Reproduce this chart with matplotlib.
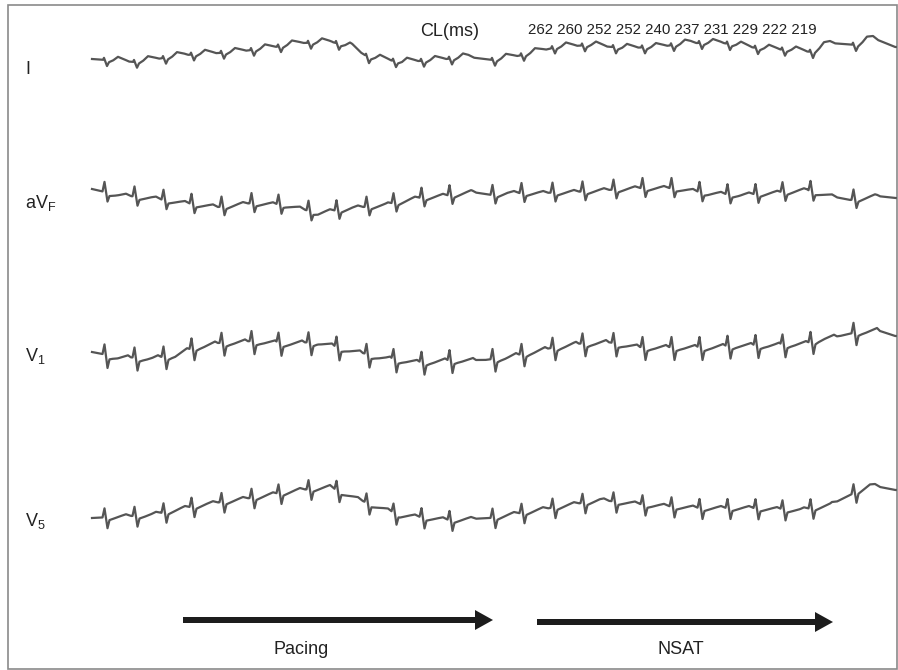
"""
Surface ECG leads during pacing and NSAT, with CL annotations.
Output: out.png (898 x 670)
"""

import numpy as np
import matplotlib
matplotlib.use("Agg")
import matplotlib.pyplot as plt

# ==========================================================
# DATA (pixel units of the figure)
# ==========================================================

LEADS = ["I", "aVF", "V1", "V5"]

CL_VALUES = [262, 260, 252, 252, 240, 237, 231, 229, 222, 219]

# beat (QRS) positions, common to all leads
BEATS = [105, 135, 164, 192, 222, 252, 279, 309, 337, 367, 394, 422, 450,
         493, 522, 553, 583, 614, 643, 672, 700, 728, 756, 783, 811, 854]

# baseline knots per lead
I_KX = [92, 135, 185, 235, 268, 302, 332, 352, 368, 402, 435, 468, 493,
        523, 557, 590, 623, 657, 690, 723, 757, 790, 813, 830, 857, 873, 895]
I_KY = [59, 62, 55, 52, 48, 43, 42, 47, 57, 62, 60, 57, 60,
        55, 47, 45, 48, 47, 43, 43, 48, 50, 52, 43, 45, 38, 47]

AVF_KX = [92, 118, 152, 185, 218, 252, 285, 318, 352, 385, 418, 452, 472,
          492, 507, 540, 573, 607, 640, 673, 707, 740, 773, 807, 830, 850,
          877, 895]
AVF_KY = [189, 195, 198, 203, 207, 203, 205, 213, 208, 205, 198, 195, 192,
          195, 193, 193, 192, 190, 188, 188, 193, 195, 193, 190, 196, 200,
          196, 198]

V1_KX = [92, 118, 152, 175, 195, 218, 252, 285, 318, 338, 358, 385, 418,
         452, 485, 507, 540, 573, 607, 640, 673, 707, 740, 773, 807, 823,
         840, 857, 877, 895]
V1_KY = [352, 357, 358, 355, 347, 343, 341, 343, 342, 347, 352, 358, 362,
         360, 360, 357, 350, 344, 342, 347, 347, 347, 345, 345, 343, 338,
         336, 332, 330, 336]

V5_KX = [92, 150, 200, 250, 300, 330, 360, 400, 450, 490, 550, 600, 650,
         700, 750, 800, 830, 850, 870, 895]
V5_KY = [518, 515, 505, 498, 490, 487, 500, 515, 520, 518, 508, 500, 505,
         508, 508, 510, 505, 495, 485, 490]

# single-beat waveforms (offset from QRS, deflection; + is downward)
I_TDX = [-2, -1, 2, 4, 8, 13, 19, 24]
I_TDY = [0, -2, 6, 2, 0, -4, -2, 0]

AVF_TDX = [-2.5, -0.5, 2.5, 4.5, 8, 14, 21, 26]
AVF_TDY = [0, -10, 9, 3, 2, 0, -2, 0]

V1_TDX = [-2.5, -0.5, 2.5, 4.5, 7, 11, 17, 23, 26]
V1_TDY = [0, -10, 13, 4, 3, 2, 0, -2, 0]

V5_TDX = [-2.5, -0.5, 2.5, 4.5, 8, 14, 21, 26]
V5_TDY = [0, -9, 11, 3, 2, 0, -2, 0]

# ==========================================================
# STYLE
# ==========================================================

plt.rcParams["font.family"] = ["Liberation Sans", "DejaVu Sans"]
plt.rcParams["mathtext.default"] = "regular"

TRACE_COLOR = "#555555"
ARROW_COLOR = "#1c1c1c"
TEXT_COLOR = "#222222"


# ==========================================================
# BUILD TRACE
# ==========================================================

def build_trace(kx, ky, tdx, tdy):

    x = np.arange(92, 896, 0.25)

    y = np.interp(x, kx, ky)

    for beat in BEATS:

        y = y + np.interp(x - beat, tdx, tdy, left=0, right=0)

    return x, y


# ==========================================================
# MAIN
# ==========================================================

def main():

    fig = plt.figure(figsize=(8.98, 6.70), dpi=100)

    ax = fig.add_axes([0, 0, 1, 1])

    ax.set_xlim(0, 898)
    ax.set_ylim(670, 0)
    ax.axis("off")

    # frame
    ax.add_patch(plt.Rectangle((7.5, 4.5), 889, 664, fill=False,
                               edgecolor="#8a8a8a", linewidth=1.2))

    traces = [
        (I_KX, I_KY, I_TDX, I_TDY),
        (AVF_KX, AVF_KY, AVF_TDX, AVF_TDY),
        (V1_KX, V1_KY, V1_TDX, V1_TDY),
        (V5_KX, V5_KY, V5_TDX, V5_TDY),
    ]

    for kx, ky, tdx, tdy in traces:

        x, y = build_trace(kx, ky, tdx, tdy)

        ax.plot(x, y, color=TRACE_COLOR, linewidth=1.6,
                solid_joinstyle="round")

    # lead labels
    label_text = ["I", "aV$_{F}$", "V$_{1}$", "V$_{5}$"]
    label_y = [70, 203, 356, 521]

    for text, y in zip(label_text, label_y):

        ax.text(25, y, text, fontsize=13, ha="left", va="center",
                color=TEXT_COLOR)

    # cycle lengths
    ax.text(420, 31, "CL(ms)", fontsize=13, ha="left", va="center",
            color=TEXT_COLOR)

    ax.text(528, 30, " ".join(str(v) for v in CL_VALUES), fontsize=10.8,
            ha="left", va="center", color=TEXT_COLOR)

    # arrows
    ax.arrow(183, 620, 310, 0, width=6, head_width=20, head_length=18,
             length_includes_head=True, color=ARROW_COLOR, linewidth=0)

    ax.arrow(537, 622, 296, 0, width=6, head_width=20, head_length=18,
             length_includes_head=True, color=ARROW_COLOR, linewidth=0)

    ax.text(301, 649, "Pacing", fontsize=13, ha="center", va="center",
            color=TEXT_COLOR)

    ax.text(681, 649, "NSAT", fontsize=13, ha="center", va="center",
            color=TEXT_COLOR)

    fig.savefig("out.png", dpi=100)

    plt.close(fig)


if __name__ == "__main__":

    main()
